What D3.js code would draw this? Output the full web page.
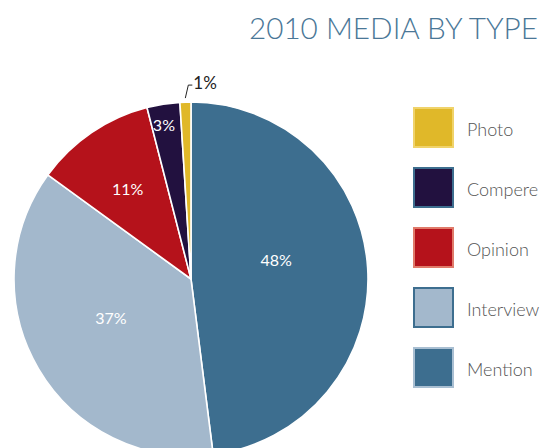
<!DOCTYPE html>
<html>
<head>
<meta charset="utf-8">
<script src="https://cdn.jsdelivr.net/npm/d3@7"></script>
<style>
  html, body { margin: 0; padding: 0; background: #fff; }
  svg { display: block; }
</style>
</head>
<body>
<svg id="chart" width="557" height="448"></svg>
<script>
// Media mix for 2010, drawn clockwise from 12 o'clock
const categories = ["Mention", "Interview", "Opinion", "Compere", "Photo"];
const shares = [48, 37, 11, 3, 1];
const sliceColors = ["#3d6e8f", "#a3b8cc", "#b5121b", "#22113f", "#e0b829"];

// Legend runs top to bottom in this order
const legendOrder = ["Photo", "Compere", "Opinion", "Interview", "Mention"];
const legendBorders = {
  Photo: "#f0d36a", Compere: "#3d6e8f", Opinion: "#e07a6a",
  Interview: "#3d6e8f", Mention: "#a9bfd2"
};

const svg = d3.select("#chart");
const cx = 191, cy = 279, R = 177;

// Title
svg.append("text")
  .attr("x", 538).attr("y", 39)
  .attr("text-anchor", "end")
  .attr("font-family", "Lato, sans-serif")
  .attr("font-weight", 300)
  .attr("font-size", 29.7)
  .attr("fill", "#4a7797")
  .text("2010 MEDIA BY TYPE");

const data = categories.map((c, i) => ({ name: c, value: shares[i], color: sliceColors[i] }));

const pie = d3.pie().value(d => d.value).sort(null);
const arcs = pie(data);
const arc = d3.arc().innerRadius(0).outerRadius(R);

const g = svg.append("g").attr("transform", `translate(${cx},${cy})`);

g.selectAll("path.slice")
  .data(arcs)
  .enter().append("path")
  .attr("class", "slice")
  .attr("d", arc)
  .attr("fill", d => d.data.color)
  .attr("stroke", "#fff")
  .attr("stroke-width", 1.6)
  .attr("stroke-linejoin", "round");

// In-slice labels: depth from centre and a small turn (degrees) off the mid-angle
const labelPlacement = {
  Mention:   { depth: 87,  turn: -8.4 },
  Interview: { depth: 89,  turn: 4.6 },
  Opinion:   { depth: 110, turn: -1 },
  Compere:   { depth: 156, turn: -1 }
};
arcs.forEach(a => {
  const name = a.data.name;
  const p = labelPlacement[name];
  if (!p) return;
  const mid = (a.startAngle + a.endAngle) / 2 + p.turn * Math.PI / 180;
  const x = Math.sin(mid) * p.depth, y = -Math.cos(mid) * p.depth;
  g.append("text")
    .attr("x", x).attr("y", y + 5.5)
    .attr("text-anchor", "middle")
    .attr("font-family", "Lato, sans-serif")
    .attr("font-size", 16)
    .attr("fill", "#fff")
    .text(a.data.value + "%");
});

// The thinnest slice gets an outside label with a leader line
const small = arcs.find(a => a.data.name === "Photo");
{
  const mid = (small.startAngle + small.endAngle) / 2;
  const p0 = [Math.sin(mid) * (R + 4), -Math.cos(mid) * (R + 4)];
  const p1 = [p0[0] + 3, p0[1] - 13];
  const p2 = [p1[0] + 4, p1[1]];
  g.append("path")
    .attr("d", d3.line()([p0, p1, p2]))
    .attr("fill", "none")
    .attr("stroke", "#222")
    .attr("stroke-width", 1);
  g.append("text")
    .attr("x", p2[0] + 1).attr("y", p2[1] + 4)
    .attr("font-family", "Lato, sans-serif")
    .attr("font-size", 17)
    .attr("fill", "#222")
    .text(small.data.value + "%");
}

// Legend
const byName = Object.fromEntries(data.map(d => [d.name, d]));
const legend = svg.append("g");
legendOrder.forEach((name, i) => {
  const y0 = 108 + i * 60;
  legend.append("rect")
    .attr("x", 414).attr("y", y0)
    .attr("width", 39).attr("height", 39)
    .attr("fill", byName[name].color)
    .attr("stroke", legendBorders[name])
    .attr("stroke-width", 2);
  legend.append("text")
    .attr("x", 467).attr("y", y0 + 28)
    .attr("font-family", "Lato, sans-serif")
    .attr("font-weight", 300)
    .attr("font-size", 18)
    .attr("fill", "#555")
    .text(name);
});
</script>
</body>
</html>
